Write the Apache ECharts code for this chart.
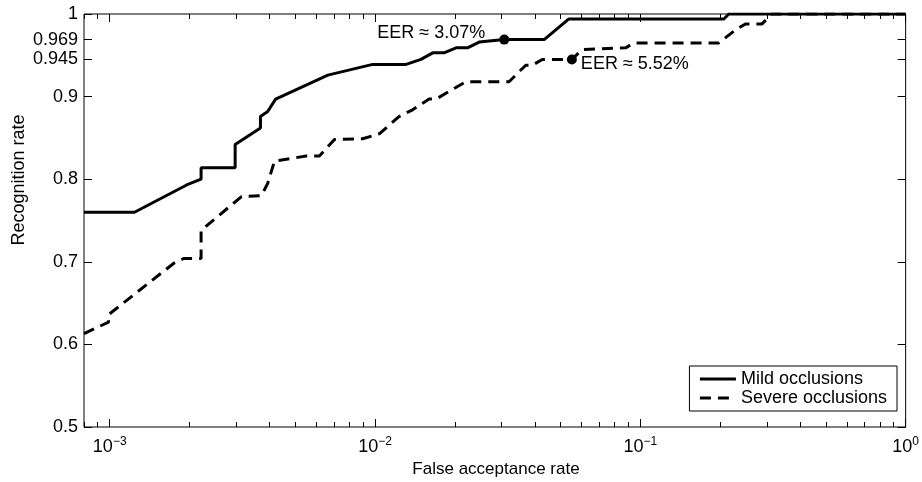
<!DOCTYPE html>
<html>
<head>
<meta charset="utf-8">
<script src="https://cdn.jsdelivr.net/npm/echarts@6/dist/echarts.min.js"></script>
<style>
  html, body { margin: 0; padding: 0; background: #fff; }
  #chart { width: 922px; height: 482px; }
</style>
</head>
<body>
<div id="chart"></div>
<script>
// ROC curves
var mildFar = [0.0008, 0.00124, 0.00195, 0.00221, 0.00221, 0.00297, 0.00297, 0.0037, 0.0037, 0.00394, 0.00422, 0.00664, 0.0098, 0.0131, 0.0149, 0.0165, 0.0182, 0.0202, 0.0223, 0.0247, 0.0307, 0.0434, 0.0538, 0.2065, 0.2155, 1];
var mildRate = [0.76, 0.76, 0.793, 0.8, 0.814, 0.814, 0.842, 0.862, 0.876, 0.882, 0.897, 0.926, 0.939, 0.939, 0.945, 0.953, 0.953, 0.959, 0.959, 0.966, 0.969, 0.969, 0.994, 0.994, 1, 1];

var severeFar = [0.0008, 0.00099, 0.00099, 0.00174, 0.0019, 0.00221, 0.00221, 0.00314, 0.00373, 0.00394, 0.00418, 0.0055, 0.00617, 0.00703, 0.00898, 0.01038, 0.01234, 0.01385, 0.016, 0.01697, 0.022, 0.032, 0.037, 0.0392, 0.0427, 0.0552, 0.0604, 0.088, 0.0946, 0.1977, 0.229, 0.249, 0.2876, 0.3128, 1];
var severeRate = [0.613, 0.627, 0.636, 0.698, 0.704, 0.704, 0.738, 0.779, 0.78, 0.795, 0.822, 0.828, 0.828, 0.848, 0.849, 0.855, 0.876, 0.884, 0.897, 0.897, 0.918, 0.918, 0.938, 0.938, 0.945, 0.945, 0.957, 0.959, 0.965, 0.965, 0.981, 0.988, 0.988, 1, 1];

var eerFar = [0.0307, 0.0552];
var eerRate = [0.969, 0.945];
var eerText = ['EER \u2248 3.07%', 'EER \u2248 5.52%'];

var yTicks = [0.5, 0.6, 0.7, 0.8, 0.9, 0.945, 0.969, 1];
var xMajor = [0.001, 0.01, 0.1, 1];
var xMinor = [0.0008, 0.0009,
  0.002, 0.003, 0.004, 0.005, 0.006, 0.007, 0.008, 0.009,
  0.02, 0.03, 0.04, 0.05, 0.06, 0.07, 0.08, 0.09,
  0.2, 0.3, 0.4, 0.5, 0.6, 0.7, 0.8, 0.9];

var FONT = 'Liberation Sans, Arial, sans-serif';

function pairs(xs, ys) {
  return xs.map(function (x, i) { return [x, ys[i]]; });
}

// one log x axis: major or minor ticks, top or bottom
function xAxis(pos, ticks, len, withLabels) {
  return {
    type: 'log',
    logBase: 10,
    min: 0.0008,
    max: 1,
    position: pos,
    gridIndex: 0,
    axisLine: { show: false },
    splitLine: { show: false },
    axisTick: {
      show: true, inside: true, length: len, customValues: ticks,
      lineStyle: { color: '#000', width: 1 }
    },
    axisLabel: withLabels ? {
      show: true,
      customValues: xMajor,
      margin: 9,
      color: '#000',
      fontFamily: FONT,
      formatter: function (v) {
        var e = Math.round(Math.log10(v));
        return '{b|10}{s|' + (e === 0 ? '0' : '\u2212' + (-e)) + '}';
      },
      rich: {
        b: { fontSize: 18, fontFamily: FONT, color: '#000' },
        s: { fontSize: 12, fontFamily: FONT, color: '#000', padding: [0, 0, 11, 0] }
      }
    } : { show: false }
  };
}

function yAxis(pos, withLabels) {
  return {
    type: 'value',
    min: 0.5,
    max: 1,
    position: pos,
    axisLine: { show: false },
    splitLine: { show: false },
    axisTick: {
      show: true, inside: true, length: 8, customValues: yTicks,
      lineStyle: { color: '#000', width: 1 }
    },
    axisLabel: withLabels ? {
      show: true, customValues: yTicks, margin: 6,
      color: '#000', fontSize: 18, fontFamily: FONT,
      formatter: function (v) { return String(v); }
    } : { show: false }
  };
}

var chart = echarts.init(document.getElementById('chart'), null, { renderer: 'canvas' });

var option = {
  backgroundColor: '#fff',
  animation: false,
  grid: {
    left: 84, right: 15, top: 14, bottom: 55,
    show: true, borderColor: '#000', borderWidth: 1, backgroundColor: 'transparent'
  },
  xAxis: [
    xAxis('bottom', xMajor, 8, true),
    xAxis('bottom', xMinor, 5, false),
    xAxis('top', xMajor, 8, false),
    xAxis('top', xMinor, 5, false)
  ],
  yAxis: [yAxis('left', true), yAxis('right', false)],
  legend: {
    data: ['Mild occlusions', 'Severe occlusions'],
    orient: 'vertical',
    right: 25,
    bottom: 71,
    itemWidth: 36,
    itemHeight: 20,
    itemGap: 1,
    padding: [4, 10, 4, 9],
    backgroundColor: '#fff',
    borderColor: '#000',
    borderWidth: 1,
    borderRadius: 0,
    itemStyle: { opacity: 0 },
    lineStyle: { width: 3 },
    textStyle: { color: '#000', fontSize: 18, fontFamily: FONT }
  },
  graphic: [{
    type: 'text',
    x: 19,
    y: 180,
    rotation: Math.PI / 2,
    style: {
      text: 'Recognition rate',
      font: '18px ' + FONT,
      fill: '#000',
      textAlign: 'center',
      textVerticalAlign: 'middle'
    }
  }, {
    type: 'text',
    x: 496,
    y: 469,
    style: {
      text: 'False acceptance rate',
      font: '17px ' + FONT,
      fill: '#000',
      textAlign: 'center',
      textVerticalAlign: 'middle'
    }
  }],
  series: [
    {
      name: 'Mild occlusions',
      type: 'line',
      xAxisIndex: 0,
      yAxisIndex: 0,
      symbol: 'none',
      color: '#000',
      lineStyle: { color: '#000', width: 3, type: 'solid' },
      data: pairs(mildFar, mildRate),
      z: 3
    },
    {
      name: 'Severe occlusions',
      type: 'line',
      xAxisIndex: 0,
      yAxisIndex: 0,
      symbol: 'none',
      color: '#000',
      lineStyle: { color: '#000', width: 3, type: [11, 7] },
      data: pairs(severeFar, severeRate),
      z: 3
    },
    {
      name: 'EER',
      type: 'scatter',
      xAxisIndex: 0,
      yAxisIndex: 0,
      symbol: 'circle',
      symbolSize: 10,
      itemStyle: { color: '#000', opacity: 1 },
      z: 4,
      data: [
        {
          value: [eerFar[0], eerRate[0]],
          label: {
            show: true, position: 'left', distance: 14, offset: [0, -7],
            formatter: eerText[0], color: '#000', fontSize: 18, fontFamily: FONT
          }
        },
        {
          value: [eerFar[1], eerRate[1]],
          label: {
            show: true, position: 'right', distance: 4, offset: [0, 5],
            formatter: eerText[1], color: '#000', fontSize: 18, fontFamily: FONT
          }
        }
      ]
    }
  ]
};

chart.setOption(option);
</script>
</body>
</html>
